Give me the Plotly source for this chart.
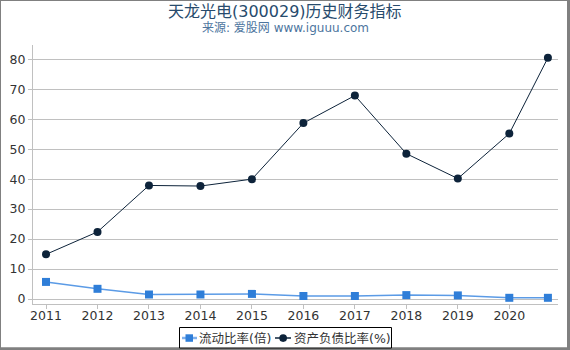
import plotly.graph_objects as go

years = [2011, 2012, 2013, 2014, 2015, 2016, 2017, 2018, 2019, 2020, 2020.75]
tick_vals = [2011, 2012, 2013, 2014, 2015, 2016, 2017, 2018, 2019, 2020]
tick_text = ["2011", "2012", "2013", "2014", "2015", "2016", "2017", "2018", "2019", "2020"]
current_ratio = [5.7, 3.4, 1.5, 1.5, 1.7, 1.0, 1.0, 1.3, 1.2, 0.4, 0.4]
debt_ratio = [14.9, 22.4, 37.9, 37.7, 40.0, 58.7, 67.9, 48.5, 40.2, 55.2, 80.5]
series_names = ["流动比率(倍)", "资产负债比率(%)"]

W, H = 570, 350
L, R, T, B = 33, 558, 45, 304
pw, ph = R - L, B - T

def px(x):
    return (x - L) / pw

def py(y):
    return (B - y) / ph

BLUE, BLUE_LINE, DARK = "#2f7ed8", "#5b9be6", "#0d233a"

fig = go.Figure()
fig.add_trace(go.Scatter(
    x=years, y=current_ratio, name=series_names[0], mode="lines+markers",
    line=dict(color=BLUE_LINE, width=1.5),
    marker=dict(symbol="square", size=8, color=BLUE),
))
fig.add_trace(go.Scatter(
    x=years, y=debt_ratio, name=series_names[1], mode="lines+markers",
    line=dict(color=DARK, width=1),
    marker=dict(symbol="circle", size=8, color=DARK),
))

font_family = "DejaVu Sans, Noto Sans CJK SC, sans-serif"

shapes = [
    # chart border
    dict(type="line", xref="paper", yref="paper", x0=px(0.5), x1=px(569), y0=py(0.5), y1=py(0.5),
         line=dict(color="#808080", width=1)),
    dict(type="line", xref="paper", yref="paper", x0=px(0.5), x1=px(0.5), y0=py(0), y1=py(349),
         line=dict(color="#808080", width=1)),
    dict(type="line", xref="paper", yref="paper", x0=px(568.5), x1=px(568.5), y0=py(0), y1=py(350),
         line=dict(color="#808080", width=3)),
    dict(type="line", xref="paper", yref="paper", x0=px(0), x1=px(570), y0=py(348.8), y1=py(348.8),
         line=dict(color="#808080", width=3)),
    # legend box
    dict(type="rect", xref="paper", yref="paper", x0=px(179.5), x1=px(391.5), y0=py(327.5), y1=py(348),
         line=dict(color="#000000", width=1), fillcolor="white", layer="above"),
    # legend symbols
    dict(type="line", xref="paper", yref="paper", x0=px(182), x1=px(197), y0=py(338), y1=py(338),
         line=dict(color="#7fb0ec", width=2.5), layer="above"),
    dict(type="rect", xref="paper", yref="paper", x0=px(185.5), x1=px(193), y0=py(334.3), y1=py(341.8),
         line=dict(width=0), fillcolor=BLUE, layer="above"),
    dict(type="line", xref="paper", yref="paper", x0=px(275), x1=px(291), y0=py(338), y1=py(338),
         line=dict(color=DARK, width=1.5), layer="above"),
    dict(type="circle", xref="paper", yref="paper", x0=px(279.3), x1=px(287), y0=py(334.2), y1=py(341.9),
         line=dict(width=0), fillcolor=DARK, layer="above"),
]

fig.update_layout(
    width=W, height=H,
    margin=dict(l=L, r=W - R, t=T, b=H - B, pad=0, autoexpand=False),
    paper_bgcolor="white", plot_bgcolor="white",
    font=dict(family=font_family, size=13, color="#333333"),
    showlegend=False,
    xaxis=dict(
        range=[2010.747, 2020.946], tickvals=tick_vals, ticktext=tick_text,
        showgrid=False, zeroline=False, showline=True, linecolor="#c0c0c0", linewidth=1,
        ticks="outside", ticklen=4, tickcolor="#c0c0c0", ticklabelstandoff=-4,
        tickfont=dict(size=12.5, color="#333333"), automargin=False,
    ),
    yaxis=dict(
        range=[-1.67, 84.77], tickvals=[0, 10, 20, 30, 40, 50, 60, 70, 80],
        showgrid=True, gridcolor="#c0c0c0", gridwidth=1, zeroline=False,
        showline=True, linecolor="#c0c0c0", linewidth=1,
        ticks="outside", ticklen=4, tickcolor="#c0c0c0",
        tickfont=dict(size=12.5, color="#333333"), automargin=False,
    ),
    annotations=[
        dict(text="天龙光电(300029)历史财务指标", x=px(285), y=py(11), xref="paper", yref="paper",
             showarrow=False, xanchor="center", yanchor="middle",
             font=dict(size=16, color="#274b6d", family=font_family)),
        dict(text="来源: 爱股网 www.iguuu.com", x=px(285), y=py(28), xref="paper", yref="paper",
             showarrow=False, xanchor="center", yanchor="middle",
             font=dict(size=12, color="#4d759e", family=font_family)),
        dict(text=series_names[0], x=px(197), y=py(338), xref="paper", yref="paper",
             showarrow=False, xanchor="left", yanchor="middle",
             font=dict(size=12.5, color="#333333", family=font_family)),
        dict(text=series_names[1], x=px(292), y=py(338), xref="paper", yref="paper",
             showarrow=False, xanchor="left", yanchor="middle",
             font=dict(size=12.5, color="#333333", family=font_family)),
    ],
    shapes=shapes,
)

fig.write_html("out.html")
